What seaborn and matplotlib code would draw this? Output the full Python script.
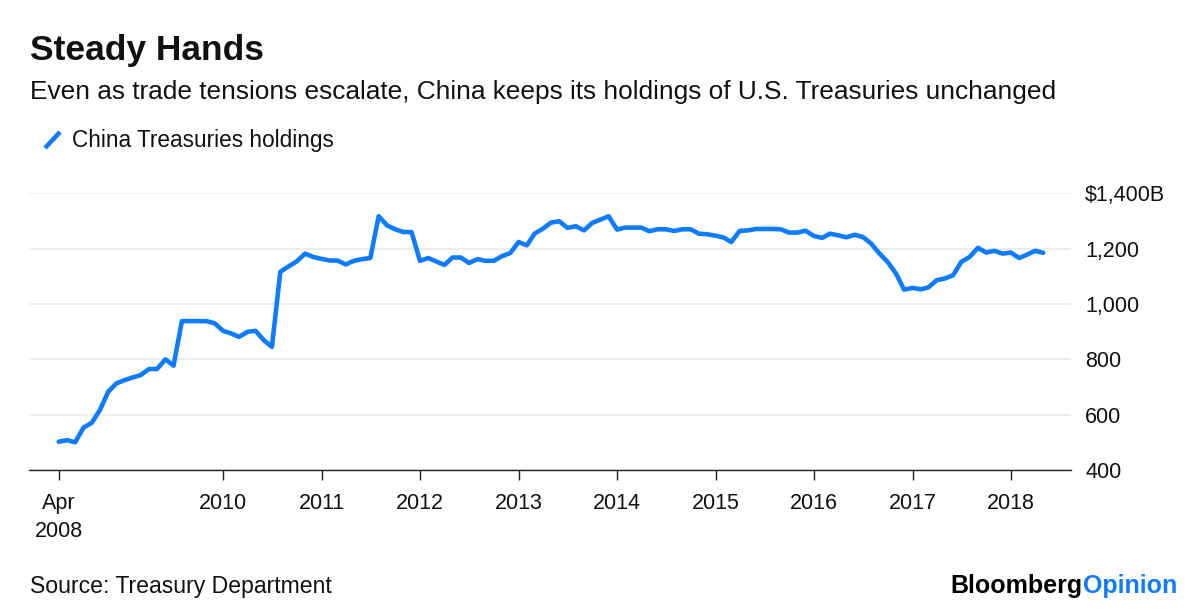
import matplotlib
matplotlib.use("Agg")
import matplotlib.pyplot as plt
import matplotlib.dates as mdates
from matplotlib.lines import Line2D
from matplotlib.ticker import FixedLocator
import seaborn as sns
import pandas as pd

# ---------------- data ----------------
start_month = "2008-04-30"
n_months = 121
holdings = [
    502, 508, 500, 553, 571, 617, 683, 713, 725, 735,
    743, 765, 765, 800, 777, 938, 938, 938, 938, 930,
    903, 893, 881, 899, 903, 869, 845, 1116, 1136, 1154,
    1182, 1170, 1163, 1157, 1157, 1143, 1156, 1162, 1166, 1317,
    1284, 1270, 1260, 1260, 1156, 1166, 1154, 1141, 1168, 1168,
    1148, 1162, 1156, 1156, 1173, 1184, 1224, 1212, 1254, 1272,
    1294, 1299, 1275, 1281, 1266, 1293, 1305, 1317, 1269, 1276,
    1276, 1276, 1263, 1270, 1270, 1264, 1270, 1270, 1254, 1252,
    1247, 1240, 1224, 1264, 1266, 1271, 1271, 1271, 1270, 1258,
    1258, 1265, 1246, 1239, 1254, 1248, 1241, 1250, 1242, 1218,
    1182, 1152, 1110, 1052, 1058, 1053, 1060, 1086, 1092, 1104,
    1152, 1170, 1203, 1186, 1192, 1182, 1186, 1166, 1178, 1192,
    1185,
]
series_name = "China Treasuries holdings"
xtick_dates = ["2008-04-30", "2010-01-01", "2011-01-01", "2012-01-01", "2013-01-01",
               "2014-01-01", "2015-01-01", "2016-01-01", "2017-01-01", "2018-01-01"]
xtick_labels = ["Apr\n2008", "2010", "2011", "2012", "2013", "2014", "2015", "2016", "2017", "2018"]
ytick_values = [400, 600, 800, 1000, 1200, 1400]
ytick_labels = ["400", "600", "800", "1,000", "1,200", "$1,400B"]

dates = pd.date_range(start_month, periods=n_months, freq=pd.offsets.MonthEnd())
df = pd.DataFrame({"date": dates, "value": holdings})

# ---------------- style ----------------
sns.set_style("white")
plt.rcParams["font.family"] = ["Liberation Sans", "DejaVu Sans"]

BLUE = "#0f7bff"
INK = "#111111"
W, H = 1200, 612
fig = plt.figure(figsize=(W / 100, H / 100), dpi=100)
ax_left, ax_right, ax_top, ax_bottom = 29.3, 1070.7, 193.3, 470.0
ax = fig.add_axes([ax_left / W, 1 - ax_bottom / H, (ax_right - ax_left) / W, (ax_bottom - ax_top) / H])

sns.lineplot(data=df, x="date", y="value", ax=ax, color=BLUE, linewidth=3.3,
             solid_joinstyle="round", solid_capstyle="round", legend=False)

ax.set_xlim(pd.Timestamp("2008-01-12"), pd.Timestamp("2018-08-10"))
ax.set_ylim(400, 1400)
ax.set_xlabel("")
ax.set_ylabel("")

xt = [mdates.date2num(pd.Timestamp(d)) for d in xtick_dates]
ax.xaxis.set_major_locator(FixedLocator(xt))
ax.set_xticklabels(xtick_labels)
ax.tick_params(axis="x", length=7.5, width=1.0, color="#222222", pad=9,
               labelsize=15.5, labelcolor=INK, direction="out", bottom=True)
for lbl in ax.get_xticklabels():
    lbl.set_linespacing(1.45)

ax.yaxis.tick_right()
ax.yaxis.set_major_locator(FixedLocator(ytick_values))
ax.set_yticklabels(ytick_labels)
ax.tick_params(axis="y", length=0, pad=10.5, labelsize=15.5, labelcolor=INK)

ax.yaxis.grid(True, color="#e9e9e9", linewidth=1.2)
ax.xaxis.grid(False)
ax.set_axisbelow(True)
for s in ["top", "left", "right"]:
    ax.spines[s].set_visible(False)
ax.spines["bottom"].set_color("#222222")
ax.spines["bottom"].set_linewidth(1.0)
ax.spines["bottom"].set_zorder(3)

# ---------------- texts ----------------
fig.text(30 / W, 1 - 60 / H, "Steady Hands", fontsize=25.5, fontweight="bold",
         ha="left", va="baseline", color=INK)
fig.text(30 / W, 1 - 99 / H, "Even as trade tensions escalate, China keeps its holdings of U.S. Treasuries unchanged",
         fontsize=18.9, ha="left", va="baseline", color=INK)

# legend
fig.add_artist(Line2D([45 / W, 60 / W], [1 - 148 / H, 1 - 132 / H], color=BLUE, linewidth=3.3,
                      solid_capstyle="butt", transform=fig.transFigure))
fig.text(72 / W, 1 - 140 / H, series_name, fontsize=16.3, ha="left", va="center", color=INK)

fig.text(30 / W, 1 - 593 / H, "Source: Treasury Department", fontsize=16.6, ha="left",
         va="baseline", color=INK)

op = fig.text(1177 / W, 1 - 593 / H, "Opinion", fontsize=18, fontweight="bold", ha="right",
              va="baseline", color=BLUE)
fig.canvas.draw()
bb = op.get_window_extent()
fig.text(bb.x0 / W, 1 - 593 / H, "Bloomberg", fontsize=18, fontweight="bold", ha="right",
         va="baseline", color="#000000")

fig.savefig("out.png", dpi=100)
